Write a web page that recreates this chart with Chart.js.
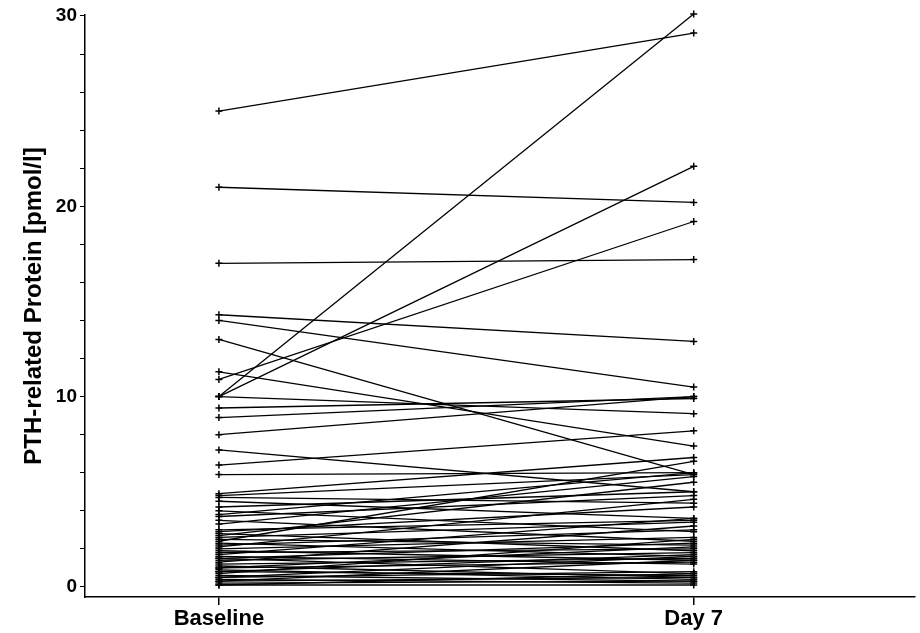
<!DOCTYPE html>
<html>
<head>
<meta charset="utf-8">
<script src="https://cdn.jsdelivr.net/npm/chart.js@4.4.1/dist/chart.umd.min.js"></script>
<style>
  html, body { margin: 0; padding: 0; background: #fff; }
  #wrap { width: 920px; height: 633px; }
</style>
</head>
<body>
<div id="wrap"><canvas id="pthrp-chart" width="920" height="633"></canvas></div>
<script>
// time points on the x axis
var categories = ['Baseline', 'Day 7'];

// PTH-related protein per patient, pmol/l
var baseline = [25.0, 21.0, 17.0, 14.3, 14.0, 13.0, 11.3, 10.9, 10.0, 10.0, 10.0, 9.4, 8.9, 8.0,
    7.2, 6.4, 5.9,
    4.9, 4.8, 4.7, 4.5, 4.2, 4.0, 3.8, 3.7, 3.5, 3.3, 3.0, 2.9, 2.8, 2.7, 2.6, 2.5, 2.4, 2.3,
    2.2, 2.1, 2.0, 1.9, 1.8, 1.7, 1.6, 1.5, 1.5, 1.4, 1.3, 1.2, 1.1, 1.0, 1.0, 0.9, 0.8, 0.8,
    0.7, 0.6, 0.5, 0.5, 0.4, 0.3, 0.3, 0.2, 0.1, 0.1];
var day7 = [29.1, 20.2, 17.2, 12.9, 10.5, 5.9, 7.4, 19.2, 30.1, 22.1, 9.1, 9.9, 10.0, 10.0,
    5.0, 8.2, 6.0,
    6.8, 5.9, 4.4, 3.6, 5.0, 2.9, 6.0, 4.8, 2.4, 5.8, 3.5, 4.2, 1.9, 5.5, 3.4, 2.2, 6.6, 1.6,
    3.0, 4.6, 2.6, 1.4, 2.0, 3.6, 1.2, 2.3, 0.7, 1.8, 3.2, 1.5, 0.5, 2.1, 1.3, 0.4, 1.7, 0.6,
    2.5, 0.3, 1.6, 0.8, 0.2, 1.4, 0.5, 0.3, 0.7, 0.1];

// y axis tick values (labels only on the tens)
var yTickValues = [0, 2, 4, 6, 8, 10, 12, 14, 16, 18, 20, 22, 24, 26, 28, 30];
var yTickLabels = ['0', '', '', '', '', '10', '', '', '', '', '20', '', '', '', '', '30'];

document.addEventListener('DOMContentLoaded', function() {
    var datasets = [];
    for (var i = 0; i < baseline.length; i++) {
        datasets.push({
            data: [{ x: 0, y: baseline[i] }, { x: 1, y: day7[i] }],
            borderColor: '#000',
            borderWidth: 1.3,
            pointStyle: 'cross',
            pointRadius: 3.5,
            pointBorderWidth: 1.5,
            pointBorderColor: '#000',
            fill: false,
            tension: 0
        });
    }

    var ctx = document.getElementById('pthrp-chart').getContext('2d');
    new Chart(ctx, {
        type: 'line',
        data: { datasets: datasets },
        options: {
            responsive: false,
            animation: false,
            clip: false,
            layout: { padding: { top: 15, right: 0, left: 0, bottom: 0 } },
            plugins: {
                legend: { display: false },
                tooltip: { enabled: false }
            },
            scales: {
                x: {
                    type: 'linear',
                    min: -0.282,
                    max: 1.465,
                    afterBuildTicks: function(scale) {
                        scale.ticks = [{ value: 0 }, { value: 1 }];
                    },
                    afterFit: function(scale) {
                        scale.height = 36;
                    },
                    ticks: {
                        color: '#000',
                        padding: 1,
                        maxRotation: 0,
                        font: { family: 'Liberation Sans', size: 22, weight: 'bold' },
                        callback: function(value) {
                            return categories[value];
                        }
                    },
                    grid: { drawOnChartArea: false, drawTicks: true, tickLength: 8, color: '#000', lineWidth: 1.5 },
                    border: { color: '#000', width: 1.5 }
                },
                y: {
                    type: 'linear',
                    min: -0.53,
                    max: 30.05,
                    afterBuildTicks: function(scale) {
                        scale.ticks = yTickValues.map(function(v) { return { value: v }; });
                    },
                    afterFit: function(scale) {
                        scale.width = 85;
                    },
                    ticks: {
                        color: '#000',
                        padding: 3,
                        font: { family: 'Liberation Sans', size: 19, weight: 'bold' },
                        callback: function(value) {
                            var idx = yTickValues.indexOf(value);
                            return idx >= 0 ? yTickLabels[idx] : '';
                        }
                    },
                    grid: { drawOnChartArea: false, drawTicks: true, tickLength: 5, color: '#000', lineWidth: 1 },
                    border: { color: '#000', width: 1.5 },
                    title: {
                        display: true,
                        text: 'PTH-related Protein [pmol/l]',
                        color: '#000',
                        padding: { top: 20, bottom: 0 },
                        font: { family: 'Liberation Sans', size: 24, weight: 'bold' }
                    }
                }
            }
        }
    });
});
</script>
</body>
</html>
